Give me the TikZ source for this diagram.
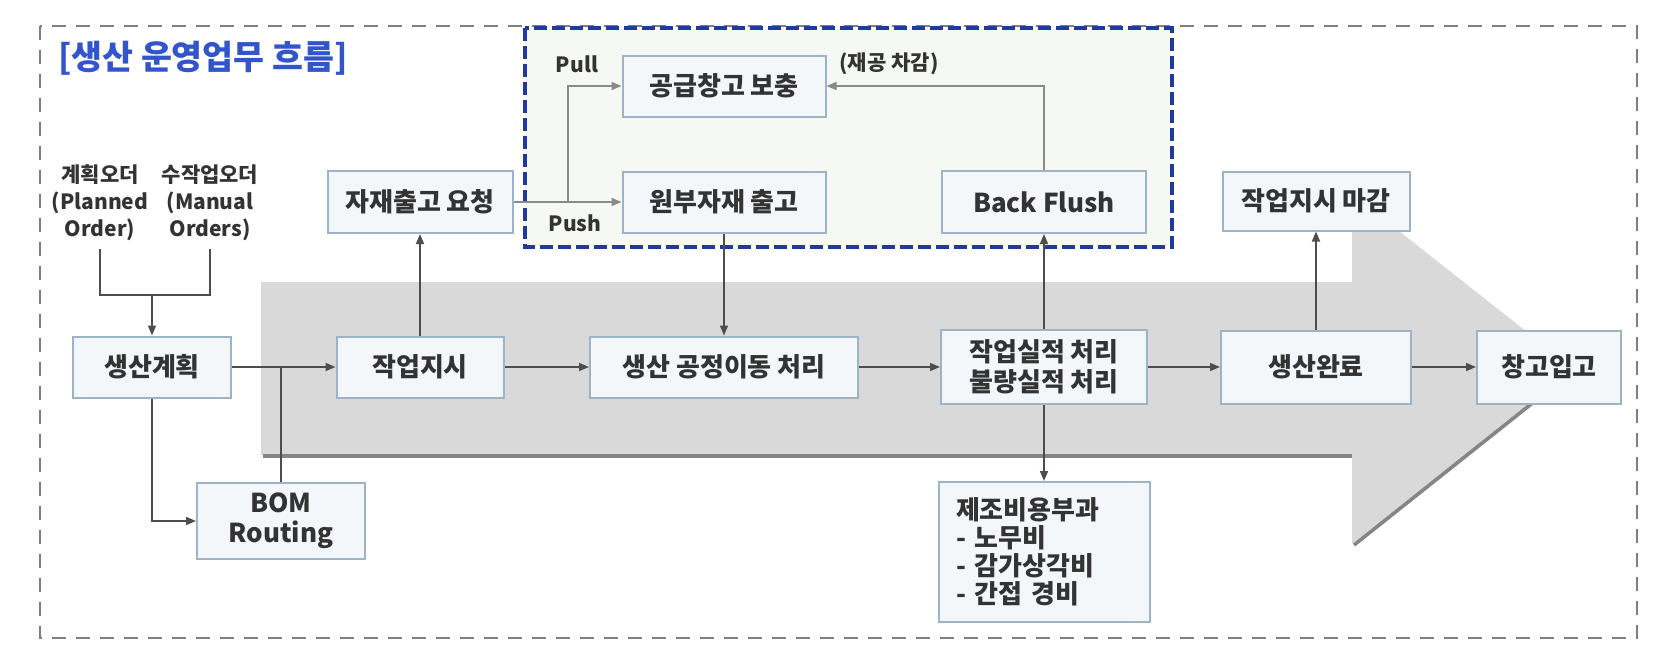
\documentclass[tikz,border=0pt]{standalone}
\usepackage{fontspec}
\setmainfont{Noto Sans CJK KR}
\usepackage{tikz}
\usetikzlibrary{arrows.meta}

\definecolor{framegray}{HTML}{7F7F7F}
\definecolor{navy}{HTML}{1F3A9E}
\definecolor{titleblue}{HTML}{3355CC}
\definecolor{boxline}{HTML}{9DB3C8}
\definecolor{boxfill}{HTML}{F4F7F9}
\definecolor{zonefill}{HTML}{F6F8F3}
\definecolor{bandgray}{HTML}{D9D9D9}
\definecolor{shadegray}{HTML}{858585}
\definecolor{txt}{HTML}{333333}
\definecolor{linegray}{HTML}{4D4D4D}
\definecolor{softline}{HTML}{8A8A8A}

\begin{document}
\begin{tikzpicture}[x=0.5pt,y=-0.5pt,
	box/.style={draw=boxline, fill=boxfill, line width=1pt, inner sep=0pt,
		text=txt, font=\bfseries\fontsize{13}{15}\selectfont, align=center},
	note/.style={text=txt, font=\bfseries\fontsize{10.5}{13.5}\selectfont,
		align=center, inner sep=1pt},
	link/.style={draw=linegray, line width=0.8pt},
	soft/.style={draw=softline, line width=0.8pt},
	arr/.style={-{Triangle[length=5pt,width=4pt]}}]
	\useasboundingbox (0,0) rectangle (1660,654);
	
	% frames and the flow band
	\draw[framegray, line width=1.2pt, dash pattern=on 7pt off 5pt] (40,26) rectangle (1637,638);
	\draw[navy, fill=zonefill, line width=2pt, dash pattern=on 6.5pt off 2.5pt] (525,28) rectangle (1172,247);
	\fill[bandgray] (261,282) -- (1352,282) -- (1352,194) -- (1574,369) -- (1352,544) -- (1352,455) -- (261,455) -- cycle;
	\draw[shadegray, line width=1.8pt] (263,456) -- (1352,456);
	\draw[shadegray, line width=1.8pt] (1354,545) -- (1574,370);
	
	\node[anchor=west, text=titleblue, font=\bfseries\fontsize{16.8}{19}\selectfont] (title) at (51,58) {[생산 운영업무 흐름]};
	
	\node[note, inner sep=4pt] (po) at (100,203) {계획오더\\(Planned\\Order)};
	\node[note, inner sep=4pt] (mo) at (210,203) {수작업오더\\(Manual\\Orders)};
	
	\node[box, minimum width=79pt, minimum height=30.5pt] (plan) at (152,367) {생산계획};
	\node[box, minimum width=83.5pt, minimum height=30.5pt] (order) at (420,367) {작업지시};
	\node[box, minimum width=134pt, minimum height=30.5pt] (move) at (724,367) {생산 공정이동 처리};
	\node[box, minimum width=103pt, minimum height=37pt] (result) at (1044,367) {작업실적 처리\\불량실적 처리};
	\node[box, minimum width=95pt, minimum height=36.5pt] (done) at (1316,367) {생산완료};
	\node[box, minimum width=72pt, minimum height=36.5pt] (store) at (1549,367) {창고입고};
	\node[box, minimum width=84pt, minimum height=38pt] (bom) at (281,521) {BOM\\Routing};
	\node[box, minimum width=105.5pt, minimum height=70pt, text width=88pt, align=left,
		font=\bfseries\fontsize{13}{14}\selectfont] (cost) at (1044,552) {제조비용부과\\- 노무비\\- 감가상각비\\- 간접 경비};
	\node[box, minimum width=92.5pt, minimum height=31pt] (req) at (420,202) {자재출고 요청};
	\node[box, minimum width=101.5pt, minimum height=30.5pt] (supply) at (724,86) {공급창고 보충};
	\node[box, minimum width=101.5pt, minimum height=30.5pt] (issue) at (724,202) {원부자재 출고};
	\node[box, minimum width=102pt, minimum height=31pt] (flush) at (1044,202) {Back Flush};
	\node[box, minimum width=93.5pt, minimum height=29.5pt] (close) at (1316,201) {작업지시 마감};
	
	\node[note] (pull) at (577,64) {Pull};
	\node[note] (push) at (575,223) {Push};
	\node[note] (wip) at (889,64) {(재공 차감)};
	
	\coordinate (join) at (152,295);
	\coordinate (split) at (568,202);
	
	\draw[link] (po.south) |- (join) -| (mo.south);
	\draw[link, arr] (join) -- (plan);
	\draw[link, arr] (plan) -- (order);
	\draw[link] (bom) -- (bom |- plan.east);
	\draw[link, arr] (plan) |- (bom);
	\draw[link, arr] (order) -- (req);
	\draw[soft, arr] (req) -- (issue);
	\draw[soft, arr] (split) |- (supply);
	\draw[link, arr] (issue) -- (move);
	\draw[link, arr] (order) -- (move);
	\draw[link, arr] (move) -- (result);
	\draw[link, arr] (result) -- (flush);
	\draw[soft, arr] (flush) |- (supply);
	\draw[link, arr] (result) -- (cost);
	\draw[link, arr] (result) -- (done);
	\draw[link, arr] (done) -- (close);
	\draw[link, arr] (done) -- (store);
\end{tikzpicture}
\end{document}
